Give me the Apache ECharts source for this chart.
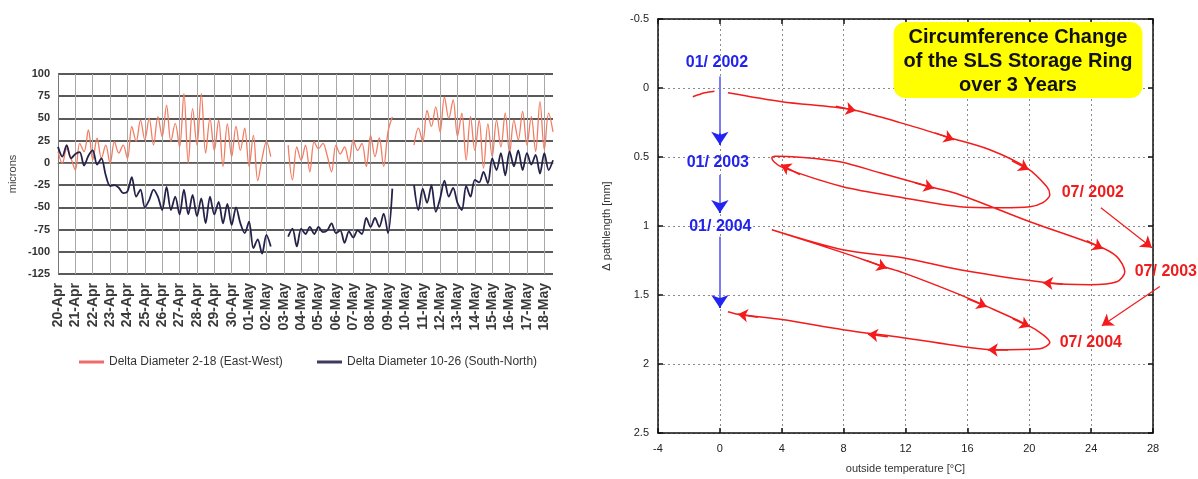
<!DOCTYPE html>
<html><head><meta charset="utf-8">
<script src="https://cdn.jsdelivr.net/npm/echarts@6/dist/echarts.min.js"></script>
<style>html,body{margin:0;padding:0;background:#fff}#c{width:1198px;height:479px}</style>
</head><body><div id="c"></div>
<script>
// ---------- Left chart data (6-hourly samples, null = no data) ----------
const dayLabels = ['20-Apr','21-Apr','22-Apr','23-Apr','24-Apr','25-Apr','26-Apr','27-Apr','28-Apr','29-Apr','30-Apr',
  '01-May','02-May','03-May','04-May','05-May','06-May','07-May','08-May','09-May','10-May','11-May','12-May','13-May',
  '14-May','15-May','16-May','17-May','18-May'];
const hours = ['00h','06h','12h','18h'];
const yTicksLeft = [-125, 100, 25];
const nameEW = 'Delta Diameter 2-18 (East-West)';
const nameSN = 'Delta Diameter 10-26 (South-North)';
const eastWest = [12.6, -0.5, 16, 5, -8, 22, 12.6, 37, 3.3, 27.7, 5.2, 20, -0.4, 24, 11, 20, 5, 40.7, 24,
  48, 26, 50, 20, 52, 29.5, 65, 24, 44.5, 18, 78,
  0, 61, 20, 78, 11, 50, 14, 48, -4, 44, 7, 41, 14, 39, -4, 31, -20, 5, 24, 7,
  null, null, null,
  20, -19, 18, 3, 20, -10, 24, 16, 22, 8, -10, 20, 10, 18, 1, 26, 14, 22, -4, 31, 7, 28, -4, 35, 52,
  null, null, null, null,
  20, 39, 24, 59, 41, 63, 35, 74, 50, 71, 30, 56, 3, 52, 14, 48, -6, 44, 7, 48, 18, 56, 11, 48, 26, 58, 20, 52, 13, 69, 15, 56, 35];
const southNorth = [18, 7, 20, 5, 10, 12, -3, 8, 14, -2, 5, -14, -26, -25, -28, -34, -32, -16, -38, -30, -50, -42, -30, -38, -53, -27, -53, -38, -58, -30,
  -58, -36, -60, -40, -68, -38, -58, -44, -68, -46, -70, -50, -68, -79, -66, -96, -86, -102, -81, -94,
  null, null, null,
  -83, -74, -94, -74, -80, -72, -80, -72, -78, -76, -68, -79, -76, -90, -77, -84, -76, -80, -62, -72, -62, -72, -57, -79, -29,
  null, null, null, null,
  -25, -53, -29, -45, -25, -55, -40, -20, -38, -28, -45, -53, -26, -38, -19, -22, -10, -23, 5, -8, 11, -14, 13, -4, 14, -8, 11, -2, 9, -12, 11, -8, 3];

// ---------- Right chart data (temperature degC, pathlength mm) ----------
const xTicksRight = [-4, 28, 4];
const yTicksRight = [-0.5, 2.5, 0.5];
const redStartT = [-1.75, -0.97, -0.35];
const redStartL = [0.063, 0.034, 0.023];
const redT = [0.52, 4.01, 8.53, 11.64, 14.87, 17.45, 19.84, 21.14, 21.33, 20.88, 20.04, 18.10, 15.51, 11.83, 7.95, 4.07, 3.49, 3.36, 3.56, 5.17,
  7.76, 10.34, 13.58, 15.51, 20.04, 24.56, 25.66, 26.18, 25.66, 23.92, 21.14, 15.51, 11.83, 7.95, 3.36, 7.95, 10.54, 11.83, 15.51, 17.0,
  19.84, 20.88, 21.33, 20.69, 17.65, 14.87, 11.83, 7.95, 4.01, 1.29, 0.52];
const redL = [0.034, 0.099, 0.157, 0.251, 0.360, 0.447, 0.578, 0.715, 0.773, 0.831, 0.860, 0.867, 0.860, 0.795, 0.715, 0.577, 0.534, 0.505, 0.494, 0.501,
  0.534, 0.614, 0.715, 0.773, 0.969, 1.150, 1.222, 1.331, 1.404, 1.425, 1.411, 1.317, 1.230, 1.172, 1.027, 1.193, 1.293, 1.338, 1.497, 1.570,
  1.715, 1.787, 1.845, 1.889, 1.896, 1.860, 1.809, 1.751, 1.678, 1.642, 1.621];
// arrow heads along the path: [fromT, fromL, toT, toL]
const pathArrows = [[7.50,0.132,8.79,0.164],[13.90,0.325,15.13,0.375],[18.88,0.527,19.97,0.592],[5.17,0.628,3.94,0.556],
  [12.61,0.686,13.83,0.726],[23.72,1.106,24.76,1.164],[22.17,1.422,20.88,1.411],[9.50,1.251,10.80,1.306],
  [16.03,1.527,17.26,1.585],[18.94,1.672,20.04,1.730],[18.62,1.900,17.32,1.897],[10.86,1.802,9.57,1.784],[2.46,1.661,1.16,1.639]];
const julyArrows = [[24.63,0.868,27.93,1.158],[28.44,1.439,24.69,1.722]];
const blueShafts = [[0,-0.084,0,0.411],[0,0.63,0,0.906],[0,1.077,0,1.594]];
const blueTips = [[0,0.33,0,0.411],[0,0.84,0,0.906],[0,1.52,0,1.594]];
const blueText = ['01/ 2002','01/ 2003','01/ 2004'];
const blueT = [-0.19, -0.13, 0.03];
const blueL = [-0.183, 0.541, 1.005];
const redText = ['07/ 2002','07/ 2003','07/ 2004'];
const redTextT = [24.11, 28.83, 23.98];
const redTextL = [0.759, 1.331, 1.846];

const categories = eastWest.map((v, i) => dayLabels[Math.floor(i / 4)] + ' ' + hours[i % 4]);
const zip = (a, b) => a.map((v, i) => [v, b[i]]);
const seg = arr => arr.map(a => ({coords: [[a[0], a[1]], [a[2], a[3]]]}));
const FONT = 'Liberation Sans, Arial, sans-serif';
const RED = '#f31b1b';

const chart = echarts.init(document.getElementById('c'));
const rightX = (extra) => Object.assign({
  type: 'value', gridIndex: 1, min: xTicksRight[0], max: xTicksRight[1], interval: xTicksRight[2],
  axisLine: {show: true, onZero: false, lineStyle: {color: '#111', width: 1.5}},
  axisTick: {show: true, inside: true, length: 5, lineStyle: {color: '#111', width: 1.5}},
  splitLine: {show: false}
}, extra);
const rightY = (extra) => Object.assign({
  type: 'value', gridIndex: 1, inverse: true, min: yTicksRight[0], max: yTicksRight[1], interval: yTicksRight[2],
  axisLine: {show: true, onZero: false, lineStyle: {color: '#111', width: 1.5}},
  axisTick: {show: true, inside: true, length: 5, lineStyle: {color: '#111', width: 1.5}},
  splitLine: {show: false}
}, extra);
const plainLabel = (color) => ({show: true, position: 'inside', formatter: p => p.name, fontSize: 16, fontWeight: 'bold',
  color: color, fontFamily: FONT, textBorderWidth: 0, textBorderColor: 'transparent', opacity: 1});

chart.setOption({
  animation: false,
  backgroundColor: '#fff',
  textStyle: {fontFamily: FONT},
  title: {
    text: 'Circumference Change\nof the SLS Storage Ring\nover 3 Years',
    left: 1008, top: 22, textAlign: 'center',
    backgroundColor: '#ffff00', borderRadius: 12, padding: [3, 10, 1, 10],
    textStyle: {fontSize: 20, fontWeight: 'bold', color: '#111', lineHeight: 24, fontFamily: FONT}
  },
  legend: [
    {left: 74, top: 351, data: [nameEW], icon: 'rect', itemWidth: 25, itemHeight: 3, itemGap: 4,
     textStyle: {fontSize: 12, color: '#333', fontFamily: FONT}},
    {left: 312, top: 351, data: [nameSN], icon: 'rect', itemWidth: 25, itemHeight: 3, itemGap: 4,
     textStyle: {fontSize: 12, color: '#333', fontFamily: FONT}}
  ],
  grid: [
    {left: 58, right: 645, top: 74, bottom: 205, outerBoundsMode: 'none', containLabel: false},
    {left: 658, right: 45, top: 19, bottom: 46, outerBoundsMode: 'none', containLabel: false}
  ],
  xAxis: [
    {type: 'category', gridIndex: 0, data: categories, boundaryGap: false,
     axisLine: {show: true, lineStyle: {color: '#777', width: 1}},
     axisTick: {show: false},
     axisLabel: {interval: i => i % 4 === 0, formatter: v => v.split(' ')[0], rotate: 90, margin: 9,
       fontSize: 14, fontWeight: 'bold', color: '#3a3a3a', fontFamily: FONT},
     splitLine: {show: true, interval: i => i % 4 === 0, lineStyle: {color: '#a8a8a8', width: 1}}},
    rightX({name: 'outside temperature [°C]', nameLocation: 'middle', nameGap: 30,
      nameTextStyle: {fontSize: 11, color: '#333', fontFamily: FONT},
      axisLabel: {margin: 10, fontSize: 11, color: '#222', fontFamily: FONT},
      splitLine: {show: true, lineStyle: {type: [2, 3], color: '#8a8a8a', width: 1}}}),
    rightX({position: 'top', axisLabel: {show: false}})
  ],
  yAxis: [
    {type: 'value', gridIndex: 0, min: yTicksLeft[0], max: yTicksLeft[1], interval: yTicksLeft[2],
     name: 'microns', nameLocation: 'middle', nameGap: 40,
     nameTextStyle: {fontSize: 11, color: '#444', fontFamily: FONT},
     axisLine: {show: true, lineStyle: {color: '#777', width: 1}},
     axisTick: {show: false},
     axisLabel: {margin: 8, fontSize: 11, fontWeight: 'bold', color: '#333', fontFamily: 'Liberation Sans Narrow, Liberation Sans, Arial'},
     splitLine: {show: true, lineStyle: {color: '#5a5a5a', width: 2}}},
    rightY({name: 'Δ pathlength [mm]', nameLocation: 'middle', nameGap: 46,
      nameTextStyle: {fontSize: 11, color: '#333', fontFamily: FONT},
      axisLabel: {margin: 9, fontSize: 11, color: '#222', fontFamily: FONT},
      splitLine: {show: true, lineStyle: {type: [2, 3], color: '#8a8a8a', width: 1}}}),
    rightY({position: 'right', axisLabel: {show: false}})
  ],
  series: [
    {name: nameEW, type: 'line', xAxisIndex: 0, yAxisIndex: 0, data: eastWest, symbol: 'none', connectNulls: false, smooth: 0.35,
     lineStyle: {color: '#f27c62', width: 1.3}, itemStyle: {color: '#f06a6a'}, z: 3},
    {name: nameSN, type: 'line', xAxisIndex: 0, yAxisIndex: 0, data: southNorth, symbol: 'none', connectNulls: false, smooth: 0.3,
     lineStyle: {color: '#25224a', width: 1.8}, itemStyle: {color: '#3d3a5e'}, z: 4},
    {name: 'start', type: 'line', xAxisIndex: 1, yAxisIndex: 1, data: zip(redStartT, redStartL), symbol: 'none', smooth: 0.3,
     lineStyle: {color: RED, width: 1.5}},
    {name: 'path', type: 'line', xAxisIndex: 1, yAxisIndex: 1, data: zip(redT, redL), symbol: 'none', smooth: 0.3,
     lineStyle: {color: RED, width: 1.5}},
    {type: 'lines', coordinateSystem: 'cartesian2d', xAxisIndex: 1, yAxisIndex: 1, data: seg(pathArrows),
     symbol: ['none', 'arrow'], symbolSize: 10, lineStyle: {color: RED, width: 1.5, opacity: 1}, z: 5},
    {type: 'lines', coordinateSystem: 'cartesian2d', xAxisIndex: 1, yAxisIndex: 1, data: seg(julyArrows), clip: false,
     symbol: ['none', 'arrow'], symbolSize: 11, lineStyle: {color: RED, width: 1.2, opacity: 1}, z: 5},
    {type: 'lines', coordinateSystem: 'cartesian2d', xAxisIndex: 1, yAxisIndex: 1, data: seg(blueShafts),
     symbol: ['none', 'none'], lineStyle: {color: '#7b7bf2', width: 2, opacity: 1}, z: 6},
    {type: 'lines', coordinateSystem: 'cartesian2d', xAxisIndex: 1, yAxisIndex: 1, data: seg(blueTips),
     symbol: ['none', 'arrow'], symbolSize: 13, lineStyle: {color: '#2424f2', width: 2, opacity: 1}, z: 7},
    {type: 'scatter', xAxisIndex: 1, yAxisIndex: 1, symbolSize: 0, clip: false, silent: true, z: 8,
     itemStyle: {color: '#2323ee'},
     data: blueText.map((t, i) => ({name: t, value: [blueT[i], blueL[i]]})),
     label: plainLabel('#2323ee')},
    {type: 'scatter', xAxisIndex: 1, yAxisIndex: 1, symbolSize: 0, clip: false, silent: true, z: 8,
     itemStyle: {color: '#f01c1c'},
     data: redText.map((t, i) => ({name: t, value: [redTextT[i], redTextL[i]]})),
     label: plainLabel('#f01c1c')}
  ]
});
</script></body></html>
